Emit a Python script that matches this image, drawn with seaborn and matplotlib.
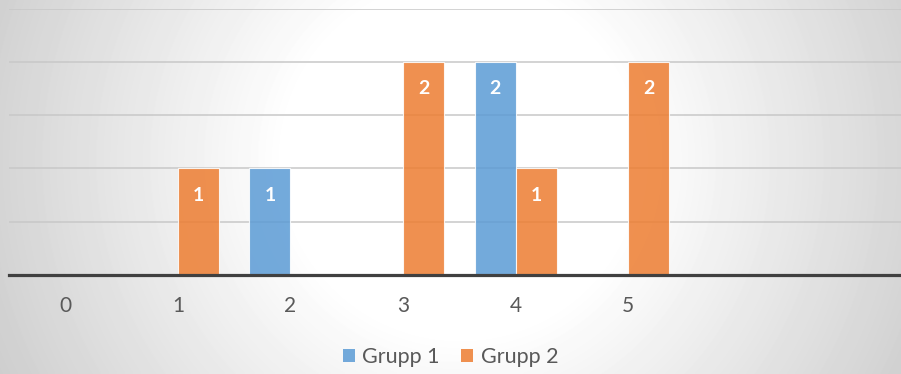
import numpy as np
import pandas as pd
import matplotlib
matplotlib.use("Agg")
import matplotlib.pyplot as plt
from matplotlib.patches import Patch
import seaborn as sns

# Chart data
categories = ["0", "1", "2", "3", "4", "5"]
grupp_1 = [0, 0, 1, 0, 2, 0]
grupp_2 = [0, 1, 0, 2, 1, 2]
series_names = ["Grupp 1", "Grupp 2"]
colors = ["#5B9BD5", "#ED7D31"]

df = pd.DataFrame({
    "kategori": categories * 2,
    "antal": grupp_1 + grupp_2,
    "grupp": [series_names[0]] * len(categories) + [series_names[1]] * len(categories),
})

sns.set_theme(style="white")
plt.rcParams["font.family"] = ["Lato", "DejaVu Sans"]

W, H = 901, 374
fig = plt.figure(figsize=(W / 100, H / 100), dpi=100)

# Soft radial backdrop: white in the middle, grey toward the corners
bg = fig.add_axes([0, 0, 1, 1], zorder=-10)
yy, xx = np.mgrid[0:H, 0:W]
r = np.hypot(xx - 460, yy - 160)
shade = 1 - 0.00058 * np.clip(r - 175, 0, None)
bg.imshow(shade, cmap="gray", vmin=0, vmax=1, aspect="auto",
          extent=(0, 1, 0, 1), interpolation="bilinear")
bg.set_axis_off()

ax_left, ax_bottom = 9 / W, (H - 275) / H
ax = fig.add_axes([ax_left, ax_bottom, 900.8 / W, (275 - 8.5) / H])
ax.set_facecolor("none")

sns.barplot(data=df, x="kategori", y="antal", hue="grupp", order=categories,
            hue_order=series_names, palette=colors, width=0.73, alpha=0.85,
            saturation=1, linewidth=0.8, edgecolor=(1, 1, 1, 0.35),
            legend=False, ax=ax, zorder=3)

ax.set_xlim(-0.5, 7.5)
ax.set_ylim(0, 2.5)
ax.set_yticks(np.arange(0.5, 2.51, 0.5))
ax.yaxis.grid(True, color="#c8c8c8", linewidth=1.1, zorder=0)
ax.set_axisbelow(True)
ax.tick_params(axis="y", left=False, labelleft=False)
ax.tick_params(axis="x", bottom=False, length=0, pad=15,
               labelsize=15, labelcolor="#595959")
ax.set_xlabel("")
ax.set_ylabel("")
for side in ["top", "right", "left"]:
    ax.spines[side].set_visible(False)
ax.spines["bottom"].set_color("#404040")
ax.spines["bottom"].set_linewidth(2.3)
ax.spines["bottom"].set_zorder(5)

# Value labels inside the top of each non-empty bar
for container in ax.containers:
    for bar in container:
        h = bar.get_height()
        if h > 0:
            ax.annotate(f"{h:g}", (bar.get_x() + bar.get_width() / 2, h),
                        xytext=(0, -27), textcoords="offset pixels",
                        ha="center", va="center", color="white",
                        fontsize=14, fontweight="bold", zorder=6)

handles = [Patch(facecolor=c, alpha=0.85, edgecolor="none") for c in colors]
fig.legend(handles, series_names, loc="center", ncol=2, frameon=False,
           bbox_to_anchor=(0.5, 1 - 357 / H), fontsize=15.5,
           labelcolor="#595959", handlelength=0.55, handleheight=0.55,
           handletextpad=0.35, columnspacing=1.0)

fig.savefig("out.png", dpi=100)
